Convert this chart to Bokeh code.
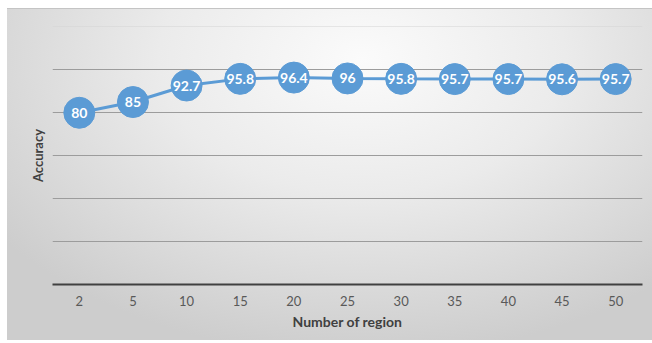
from bokeh.plotting import figure
from bokeh.models import FactorRange, Range1d, ColumnDataSource, FixedTicker, Grid
from bokeh.core.properties import value
from bokeh.embed import file_html
from bokeh.resources import INLINE

regions = ["2", "5", "10", "15", "20", "25", "30", "35", "40", "45", "50"]
accuracy = [80, 85, 92.7, 95.8, 96.4, 96, 95.8, 95.7, 95.7, 95.6, 95.7]
labels = ["80", "85", "92.7", "95.8", "96.4", "96", "95.8", "95.7", "95.7", "95.6", "95.7"]
y_grid_ticks = [20, 40, 60, 80, 100]
y_top_tick = [120]

src = ColumnDataSource(dict(x=regions, y=accuracy, t=labels))

p = figure(width=645, height=332, x_range=FactorRange(*regions, range_padding=0),
           y_range=Range1d(0, 120.2), output_backend="svg", toolbar_location=None,
           min_border_left=45, min_border_right=10, min_border_top=17, min_border_bottom=57)
p.margin = (8, 0, 0, 7)
p.styles = {"background": "radial-gradient(ellipse 70% 90% at 55% 15%, #fbfbfb 0%, #ebebeb 45%, #cdcdcd 100%)",
            "border-top": "1px solid #c4c4c4"}
p.border_fill_alpha = 0
p.background_fill_alpha = 0
p.outline_line_color = None

p.xgrid.grid_line_color = None
p.yaxis.ticker = FixedTicker(ticks=[])
p.ygrid.ticker = FixedTicker(ticks=y_grid_ticks)
p.ygrid.grid_line_color = "#9c9c9c"
p.ygrid.grid_line_width = 1
p.add_layout(Grid(dimension=1, ticker=FixedTicker(ticks=y_top_tick),
                  grid_line_color="#d4d4d4", grid_line_width=1))

p.line("x", "y", source=src, line_color="#5b9bd5", line_width=3)
p.scatter("x", "y", source=src, size=31, fill_color="#5b9bd5", line_color="#5b9bd5")
p.text("x", "y", text="t", source=src, text_color="white", text_align="center",
       text_baseline="middle", text_font=value("Lato"), text_font_size="14px",
       text_font_style="bold")

ax = p.xaxis[0]
ax.axis_line_color = "#404040"
ax.axis_line_width = 2
ax.major_tick_line_color = None
ax.minor_tick_line_color = None
ax.major_label_text_font = "Lato"
ax.major_label_text_font_size = "13px"
ax.major_label_text_color = "#595959"
ax.major_label_standoff = 5
ax.axis_label = "Number of region"
ax.axis_label_text_font = "Lato"
ax.axis_label_text_font_size = "14px"
ax.axis_label_text_font_style = "bold"
ax.axis_label_text_color = "#404040"
ax.axis_label_standoff = 4

ay = p.yaxis[0]
ay.axis_line_color = None
ay.major_tick_line_color = None
ay.minor_tick_line_color = None
ay.major_tick_out = 0
ay.major_label_standoff = 0
ay.axis_label = "Accuracy"
ay.axis_label_text_font = "Lato"
ay.axis_label_text_font_size = "13px"
ay.axis_label_text_font_style = "bold"
ay.axis_label_text_color = "#404040"
ay.axis_label_standoff = 7

open("out.html", "w").write(file_html(p, INLINE))
